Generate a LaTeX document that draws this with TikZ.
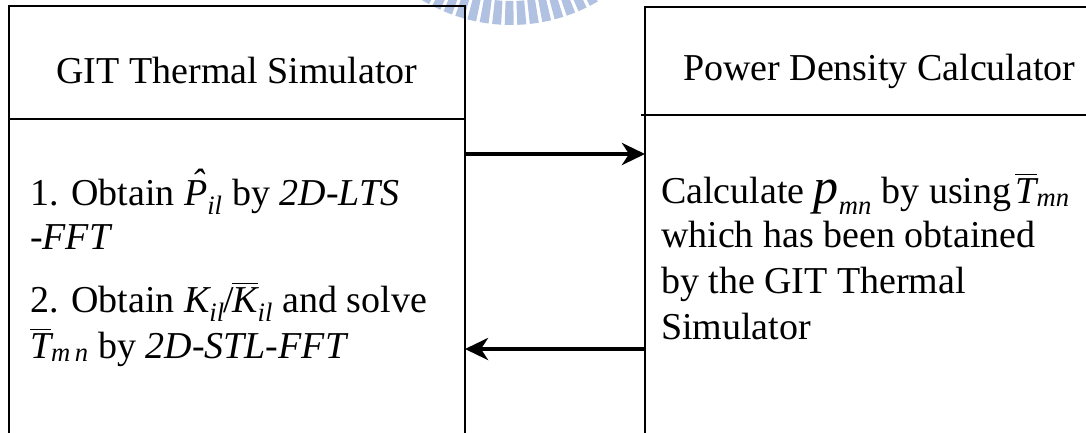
\documentclass[tikz,border=0pt]{standalone}
\usepackage{amsmath}
\usepackage{fontspec}
\setmainfont{Liberation Serif}
\usetikzlibrary{arrows.meta}
\tikzset{
  box/.style={draw=black, line width=1.5pt, inner sep=0pt, outer sep=0pt},
  divider/.style={draw=black, line width=2.6pt},
  txt/.style={inner sep=0pt, outer sep=0pt, anchor=base west, font=\fontsize{38}{46}\selectfont},
  ttl/.style={inner sep=0pt, outer sep=0pt, font=\fontsize{38}{46}\selectfont},
  arr/.style={draw=black, line width=4pt, -{Stealth[length=23pt,width=22pt,inset=7pt]}},
  tick/.style={fill=wm}
}
\definecolor{wm}{HTML}{B1C1E1}
\newcommand{\iv}[1]{\textit{#1}}
\newcommand{\Phat}{{\ooalign{\textit{P}\cr\hidewidth\kern5pt\raisebox{10pt}{\textit{\char"02C6}}\hidewidth\cr}}}
\begin{document}
\begin{tikzpicture}[x=1pt,y=-1pt]
\useasboundingbox (0,0) rectangle (1086,432);
\clip (0,0) rectangle (1086,432);
\fill[white] (0,0) rectangle (1086,432);
% watermark ring (radial ticks)
\coordinate (wc) at (511,-147);
\foreach \a in {57.0,61.2,...,123.0}{
  \fill[tick, shift={(wc)}] (\a-1.5:148) -- (\a-1.5:172) -- (\a+1.5:172) -- (\a+1.5:148) -- cycle;
}
% boxes
\node[box, minimum width=456pt, minimum height=444pt] (lbox) at (237,228) {};
\node[box, minimum width=455pt, minimum height=443pt] (rbox) at (872.5,228.5) {};
\draw[divider] (lbox.west |- 0,119) -- (lbox.east |- 0,119);
\coordinate (rdl) at (641,115);
\draw[divider] (rdl) -- (rbox.east |- rdl);
% titles
\node[ttl, anchor=base] (ltitle) at (237,83) {GIT Thermal Simulator};
\node[ttl, anchor=base west] (rtitle) at (683,80) {Power Density Calculator};
% left body
\node[txt] (l1) at (30,205) {1. Obtain $\Phat_{\iv{il}}$ by \textit{2D-LTS}};
\node[txt] (l2) at (30,249) {\textit{-FFT}};
\node[txt] (l3) at (30,312) {2. Obtain $\iv{K}_{\iv{il}}$\hspace{-1pt}/\hspace{-2pt}$\overline{\iv{K}}_{\iv{il}}$ and solve};
\node[txt] (l4) at (30,358) {$\overline{\iv{T}}_{\iv{m\,n}}$ by \textit{2D-STL-FFT}};
% right body
\node[txt] (r1) at (661,203) {Calculate ${\fontsize{50}{50}\selectfont\iv{p}}_{\iv{mn}}$ by using$\,\overline{\iv{T}}_{\iv{mn}}$};
\node[txt] (r2) at (661,247) {which has been obtained};
\node[txt] (r3) at (661,293) {by the GIT Thermal};
\node[txt] (r4) at (661,339) {Simulator};
% arrows
\draw[arr] (lbox.east |- 0,154) -- (rbox.west |- 0,154);
\draw[arr] (rbox.west |- 0,349) -- (lbox.east |- 0,349);
\end{tikzpicture}
\end{document}
